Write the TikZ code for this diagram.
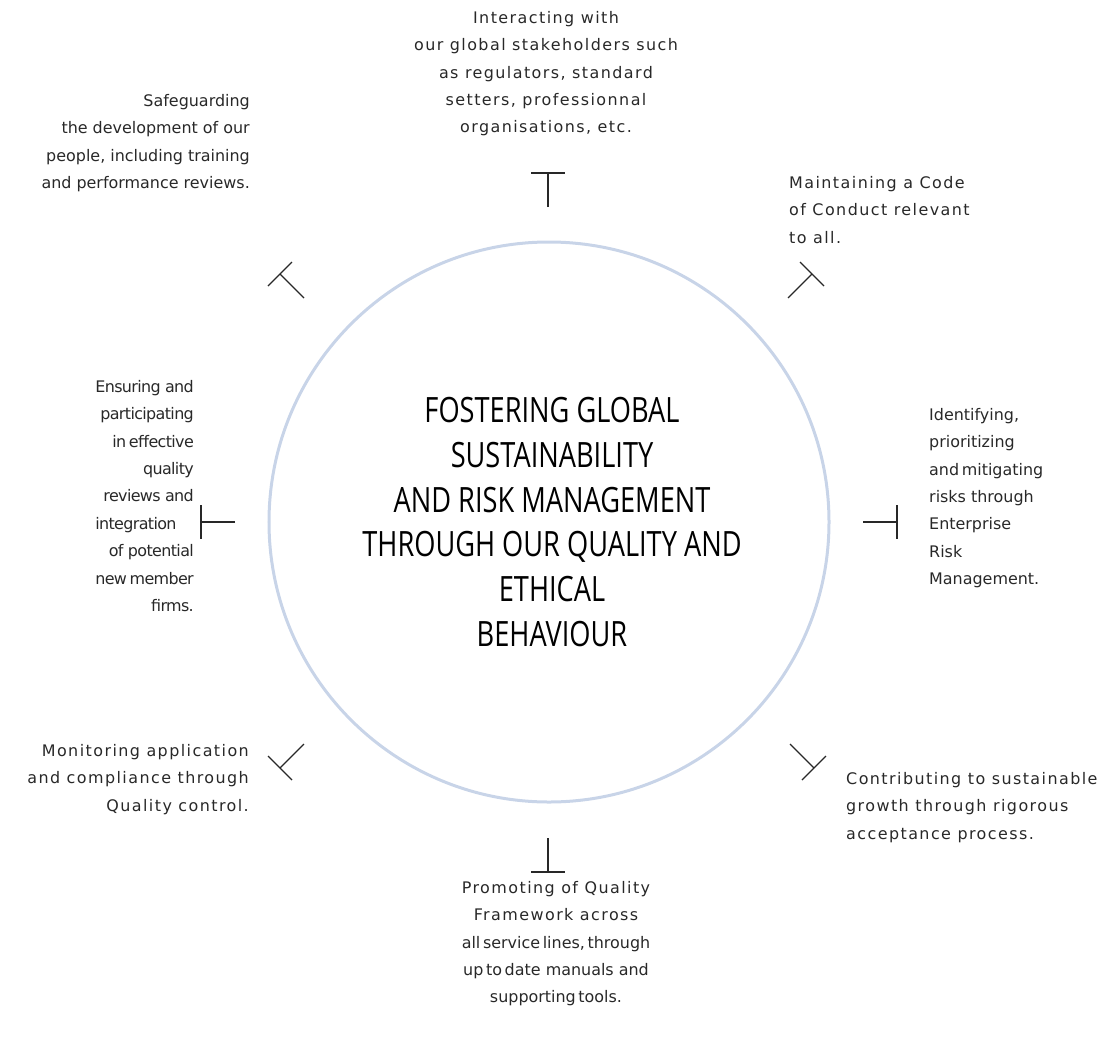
\documentclass[tikz,border=0pt]{standalone}
\usepackage{fontspec}
\newfontfamily\periphfont{DejaVu Sans}
\newfontfamily\periphwide[LetterSpace=9]{DejaVu Sans}
\newfontfamily\periphtight[LetterSpace=-4]{DejaVu Sans}
\newfontfamily\hubfont[FakeStretch=0.78]{Open Sans}
\definecolor{ringblue}{RGB}{200,212,232}
\definecolor{inkgray}{RGB}{40,40,40}
\begin{document}
\begin{tikzpicture}[x=1bp,y=-1bp,
  ptext/.style={inner sep=0pt, font=\periphfont\fontsize{16}{27.5}\selectfont, text=inkgray},
  pwide/.style={ptext, font=\periphwide\fontsize{16}{27.5}\selectfont},
  ptight/.style={ptext, font=\periphtight\fontsize{16}{27.5}\selectfont},
  tee/.style={draw=inkgray, line width=1.3bp},
  ring/.style={draw=ringblue, line width=3bp, circle, inner sep=0pt, minimum size=560bp}]
\useasboundingbox (0,0) rectangle (1104,1039);

% central ring and title
\node[ring] (hub) at (549,522) {};
\node[inner sep=0pt, align=center, font=\hubfont\fontsize{35}{45}\selectfont, text=black] (title) at (552,522)
  {FOSTERING GLOBAL\\SUSTAINABILITY\\AND RISK MANAGEMENT\\THROUGH OUR QUALITY AND\\ETHICAL\\BEHAVIOUR};

% T-shaped connectors
\coordinate (nS) at (548,207); \coordinate (nJ) at (548,173); \coordinate (nA) at (531,173); \coordinate (nB) at (565,173);
\coordinate (sS) at (548,838); \coordinate (sJ) at (548,872); \coordinate (sA) at (531,872); \coordinate (sB) at (565,872);
\coordinate (wS) at (235,522); \coordinate (wJ) at (201,522); \coordinate (wA) at (201,505); \coordinate (wB) at (201,539);
\coordinate (eS) at (863,522); \coordinate (eJ) at (897,522); \coordinate (eA) at (897,505); \coordinate (eB) at (897,539);
\coordinate (nwS) at (304,298); \coordinate (nwJ) at (280,274); \coordinate (nwA) at (268,286); \coordinate (nwB) at (292,262);
\coordinate (neS) at (788,298); \coordinate (neJ) at (812,274); \coordinate (neA) at (800,262); \coordinate (neB) at (824,286);
\coordinate (swS) at (304,744); \coordinate (swJ) at (280,768); \coordinate (swA) at (268,756); \coordinate (swB) at (292,780);
\coordinate (seS) at (790,744); \coordinate (seJ) at (814,768); \coordinate (seA) at (826,756); \coordinate (seB) at (802,780);
\foreach \d in {n,s,w,e,nw,ne,sw,se}{
  \draw[tee] (\d S) -- (\d J);
  \draw[tee] (\d A) -- (\d B);
}

% surrounding texts
\node[pwide, align=center, anchor=north] (tN) at (546,11)
  {Interacting with\\our global stakeholders such\\as regulators, standard\\setters, professionnal\\organisations, etc.};
\node[ptext, align=right, anchor=north east] (tNW) at (250,94)
  {Safeguarding\\the development of our\\people, including training\\and performance reviews.};
\node[pwide, align=left, anchor=north west] (tNE) at (789,176)
  {Maintaining a Code\\of Conduct relevant\\to all.};
\node[ptight, anchor=north east] (tW) at (194,373)
  {\begin{tabular}{@{}r@{}}Ensuring and\\participating\\in\,effective\\quality\\reviews and\\\multicolumn{1}{@{}l@{}}{integration}\\of potential\\new\,member\\firms.\end{tabular}};
\node[ptext, align=left, anchor=north west] (tE) at (929,408)
  {Identifying,\\prioritizing\\and\,mitigating\\risks through\\Enterprise\\Risk\\Management.};
\node[pwide, align=right, anchor=north east] (tSW) at (249,744)
  {Monitoring application\\and compliance through\\Quality control.};
\node[pwide, align=left, anchor=north west] (tSE) at (846,772)
  {Contributing to sustainable\\growth through rigorous\\acceptance process.};
\node[ptext, align=center, anchor=north] (tS) at (556,881)
  {{\periphwide Promoting of Quality}\\{\periphwide Framework across}\\all\,service\,lines,\,through\\up\,to\,date manuals and\\supporting\,tools.};
\end{tikzpicture}
\end{document}
